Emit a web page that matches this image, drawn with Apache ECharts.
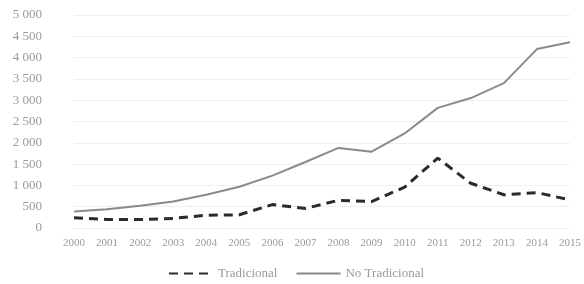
<!DOCTYPE html>
<html>
<head>
<meta charset="utf-8">
<script src="https://cdn.jsdelivr.net/npm/echarts@6/dist/echarts.min.js"></script>
<style>
  html, body { margin: 0; padding: 0; background: #fff; }
  #chart { width: 584px; height: 284px; }
</style>
</head>
<body>
<div id="chart"></div>
<script>
// datos
var years = ['2000','2001','2002','2003','2004','2005','2006','2007',
             '2008','2009','2010','2011','2012','2013','2014','2015'];
var tradicional   = [240, 200, 200, 225, 300, 310, 550, 460, 650, 620, 960, 1640, 1050, 780, 830, 660];
var noTradicional = [390, 440, 520, 620, 780, 970, 1230, 1550, 1880, 1790, 2220, 2820, 3050, 3400, 4200, 4360];

var txt = '#9a9a9a';

var myChart = echarts.init(document.getElementById('chart'));
var option = {
    animation: false,
    textStyle: { fontFamily: 'Liberation Serif' },
    grid: { left: 74, right: 12, top: 15, bottom: 56 },
    legend: {
        top: 262,
        left: 163,
        itemWidth: 44,
        itemHeight: 10,
        itemGap: 18,
        itemStyle: { opacity: 0 },
        textStyle: { color: txt, fontSize: 13 },
        data: ['Tradicional', 'No Tradicional']
    },
    xAxis: {
        type: 'category',
        data: years,
        boundaryGap: false,
        axisLine: { show: false },
        axisTick: { show: false },
        axisLabel: { color: txt, fontSize: 11, margin: 10, interval: 0 }
    },
    yAxis: {
        type: 'value',
        min: 0,
        max: 5000,
        interval: 500,
        axisLabel: {
            color: txt, fontSize: 13, margin: 32,
            formatter: function (v) {
                return v >= 1000 ? Math.floor(v / 1000) + ' ' + String(v % 1000).padStart(3, '0') : String(v);
            }
        },
        splitLine: { lineStyle: { color: '#efefef' } }
    },
    series: [
        {
            name: 'Tradicional',
            type: 'line',
            data: tradicional,
            symbol: 'none',
            lineStyle: { color: '#2b2b2b', width: 3, type: [9, 6] },
            itemStyle: { color: '#2b2b2b' }
        },
        {
            name: 'No Tradicional',
            type: 'line',
            data: noTradicional,
            symbol: 'none',
            lineStyle: { color: '#8a8a8a', width: 2 },
            itemStyle: { color: '#8a8a8a' }
        }
    ]
};
myChart.setOption(option);
</script>
</body>
</html>
